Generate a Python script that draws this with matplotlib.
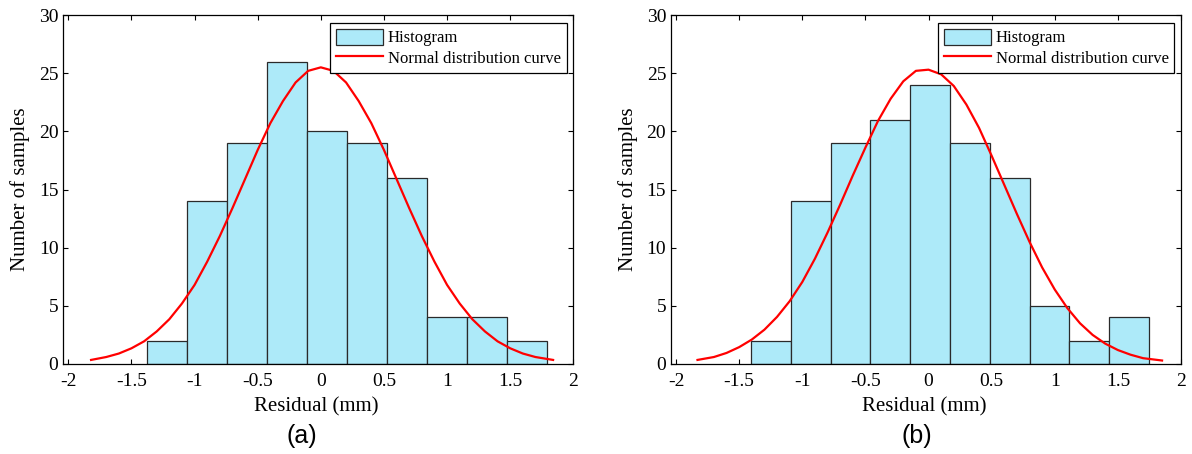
import numpy as np
import matplotlib
matplotlib.use("Agg")
import matplotlib.pyplot as plt

# ---- data ----
counts_a = [2, 14, 19, 26, 20, 19, 16, 4, 4, 2]
edge_lo_a, edge_hi_a = -1.38, 1.79
counts_b = [2, 14, 19, 21, 24, 19, 16, 5, 2, 4]
edge_lo_b, edge_hi_b = -1.405, 1.745

curve_x_a = [-1.82, -1.7, -1.6, -1.5, -1.4, -1.3, -1.2, -1.1, -1.0, -0.9, -0.8, -0.7,
             -0.6, -0.5, -0.4, -0.3, -0.2, -0.1, 0.0, 0.1, 0.2, 0.3, 0.4, 0.5, 0.6,
             0.7, 0.8, 0.9, 1.0, 1.1, 1.2, 1.3, 1.4, 1.5, 1.6, 1.7, 1.84]
curve_y_a = [0.35, 0.6, 0.9, 1.35, 1.95, 2.8, 3.85, 5.2, 6.8, 8.8, 11.0, 13.4,
             15.9, 18.4, 20.7, 22.6, 24.2, 25.2, 25.5, 25.2, 24.2, 22.6, 20.7, 18.4, 15.9,
             13.4, 11.0, 8.8, 6.8, 5.2, 3.85, 2.8, 1.95, 1.35, 0.9, 0.6, 0.35]

curve_x_b = [-1.83, -1.7, -1.6, -1.5, -1.4, -1.3, -1.2, -1.1, -1.0, -0.9, -0.8, -0.7,
             -0.6, -0.5, -0.4, -0.3, -0.2, -0.1, 0.0, 0.1, 0.2, 0.3, 0.4, 0.5, 0.6,
             0.7, 0.8, 0.9, 1.0, 1.1, 1.2, 1.3, 1.4, 1.5, 1.6, 1.7, 1.85]
curve_y_b = [0.35, 0.6, 0.95, 1.45, 2.1, 2.95, 4.05, 5.4, 7.05, 9.05, 11.3, 13.7,
             16.2, 18.6, 20.9, 22.8, 24.3, 25.2, 25.3, 24.9, 23.9, 22.3, 20.3, 17.9, 15.4,
             12.9, 10.5, 8.3, 6.4, 4.8, 3.5, 2.5, 1.75, 1.2, 0.8, 0.5, 0.3]

xticks = [-2, -1.5, -1, -0.5, 0, 0.5, 1, 1.5, 2]
xticklabels = ["-2", "-1.5", "-1", "-0.5", "0", "0.5", "1", "1.5", "2"]
yticks = [0, 5, 10, 15, 20, 25, 30]
panel_labels = ["(a)", "(b)"]

W, H = 1192, 454
fig = plt.figure(figsize=(W / 100, H / 100), dpi=100)

serif = ["Liberation Serif", "DejaVu Serif"]
bar_color = "#ADEAF9"
AX_W, AX_H = 510.0, 349.0

def px_axes(l, r, t, b):
    return fig.add_axes([l / W, 1 - b / H, (r - l) / W, (b - t) / H])

panels = [
    (px_axes(63.3, 573.3, 15, 364), counts_a, edge_lo_a, edge_hi_a, curve_x_a, curve_y_a),
    (px_axes(671, 1181, 15, 364), counts_b, edge_lo_b, edge_hi_b, curve_x_b, curve_y_b),
]

for i, (ax, counts, lo, hi, cx, cy) in enumerate(panels):
    edges = np.linspace(lo, hi, len(counts) + 1)
    hb = ax.bar(edges[:-1], counts, width=np.diff(edges), align="edge",
                color=bar_color, edgecolor="#2a2a2a", linewidth=0.9, label="Histogram", zorder=2)
    ln, = ax.plot(cx, cy, color="red", linewidth=1.6, label="Normal distribution curve", zorder=3)
    ax.set_xlim(-2.04, 2)
    ax.set_ylim(0, 30)
    ax.set_xticks(xticks)
    ax.set_xticklabels(xticklabels)
    ax.set_yticks(yticks)
    ax.tick_params(direction="in", top=True, right=True, length=3.6, width=0.8,
                   labelsize=14)
    ax.tick_params(axis="x", pad=6.2)
    ax.tick_params(axis="y", pad=3.5)
    for lab in ax.get_xticklabels() + ax.get_yticklabels():
        lab.set_family(serif)
    for s in ax.spines.values():
        s.set_linewidth(0.9)
    ax.set_xlabel("Residual (mm)", fontsize=15, family=serif)
    ax.set_ylabel("Number of samples", fontsize=15, family=serif)
    ax.xaxis.set_label_coords(0.5 - 2 / AX_W, -33 / AX_H)
    ax.yaxis.set_label_coords(-33 / AX_W, 0.5)
    leg = ax.legend([hb, ln], ["Histogram", "Normal distribution curve"],
                    loc="upper right", bbox_to_anchor=(0.987, 0.978), fancybox=False,
                    edgecolor="black", framealpha=1, prop={"family": serif, "size": 12},
                    handlelength=2.8, handleheight=1.1, handletextpad=0.3,
                    borderpad=0.35, labelspacing=0.2, borderaxespad=0)
    leg.get_frame().set_linewidth(0.9)

fig.text(302 / W, 1 - 436 / H, panel_labels[0], fontsize=18, family=["Liberation Sans"],
         ha="center", va="center")
fig.text(917 / W, 1 - 436 / H, panel_labels[1], fontsize=18, family=["Liberation Sans"],
         ha="center", va="center")

fig.savefig("out.png", dpi=100)
